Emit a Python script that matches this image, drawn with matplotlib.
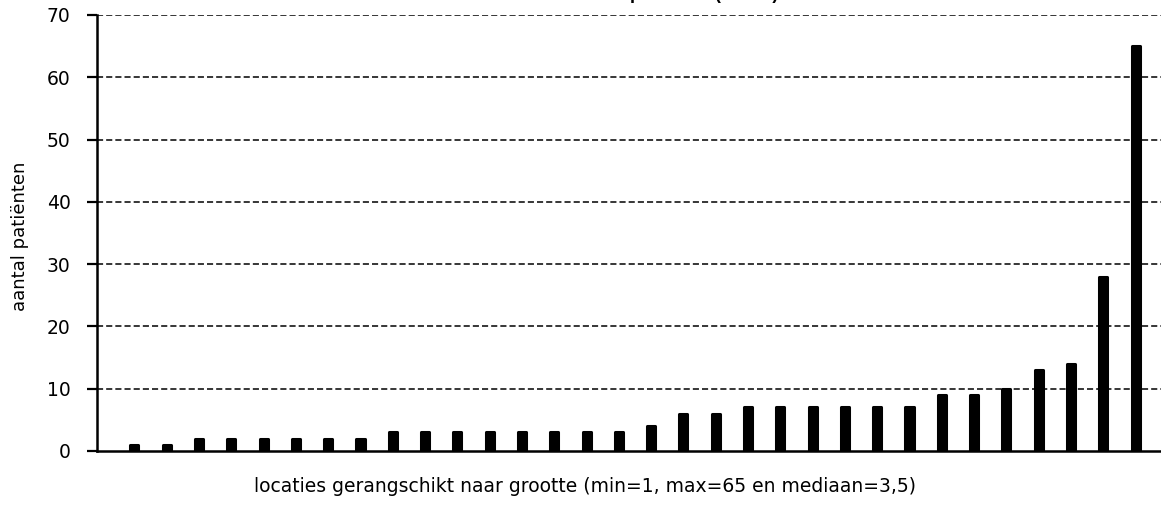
import matplotlib
matplotlib.use("Agg")
import matplotlib.pyplot as plt
import numpy as np

plt.rcParams['font.family'] = ['DejaVu Sans']

# Number of patients per location, sorted ascending
patients = [1, 1, 2, 2, 2, 2, 2, 2, 3, 3, 3, 3, 3, 3, 3, 3,
            4, 6, 6, 7, 7, 7, 7, 7, 7, 9, 9, 10, 13, 14, 28, 65]
y_ticks = [0, 10, 20, 30, 40, 50, 60, 70]

title = "Aantal patiënten (n=244)"
y_label = "aantal patiënten"
x_label = "locaties gerangschikt naar grootte (min=1, max=65 en mediaan=3,5)"

W, H = 1161, 505
fig = plt.figure(figsize=(W / 100, H / 100), dpi=100)

# axes box in pixels; the box runs a little past the right edge of the figure
left, right, top, bottom = 97, 1173, 15, 451
ax = fig.add_axes([left / W, 1 - bottom / H, (right - left) / W, (bottom - top) / H])

x = np.arange(len(patients))
ax.bar(x, patients, width=0.25, color='black', edgecolor='black',
       linewidth=2.2, joinstyle='round', zorder=3)

ax.set_xlim(-1.16, len(patients) + 0.16)
ax.set_ylim(0, 70)
ax.set_yticks(y_ticks)
ax.set_xticks([])
ax.tick_params(axis='y', direction='out', length=7, width=1.6,
               labelsize=13.5, pad=12)

for spine in ['top', 'right']:
    ax.spines[spine].set_visible(False)
ax.spines['left'].set_linewidth(1.8)
ax.spines['bottom'].set_linewidth(1.8)

for v in y_ticks[1:]:
    ax.axhline(v, color='black', linewidth=1.1, linestyle=(0, (4, 2)), zorder=1)

fig.text(20 / W, 1 - 236 / H, y_label, rotation=90, ha='center', va='center',
         fontsize=13)
fig.text(585 / W, 1 - 487 / H, x_label, ha='center', va='center', fontsize=13.5)

# chart title sits just above the top edge; only its descenders reach the image
fig.text(778 / W, 1 + 1 / H, title, ha='right', va='baseline',
         fontsize=13, fontweight='bold', family='Liberation Sans')

fig.savefig("out.png", dpi=100)
